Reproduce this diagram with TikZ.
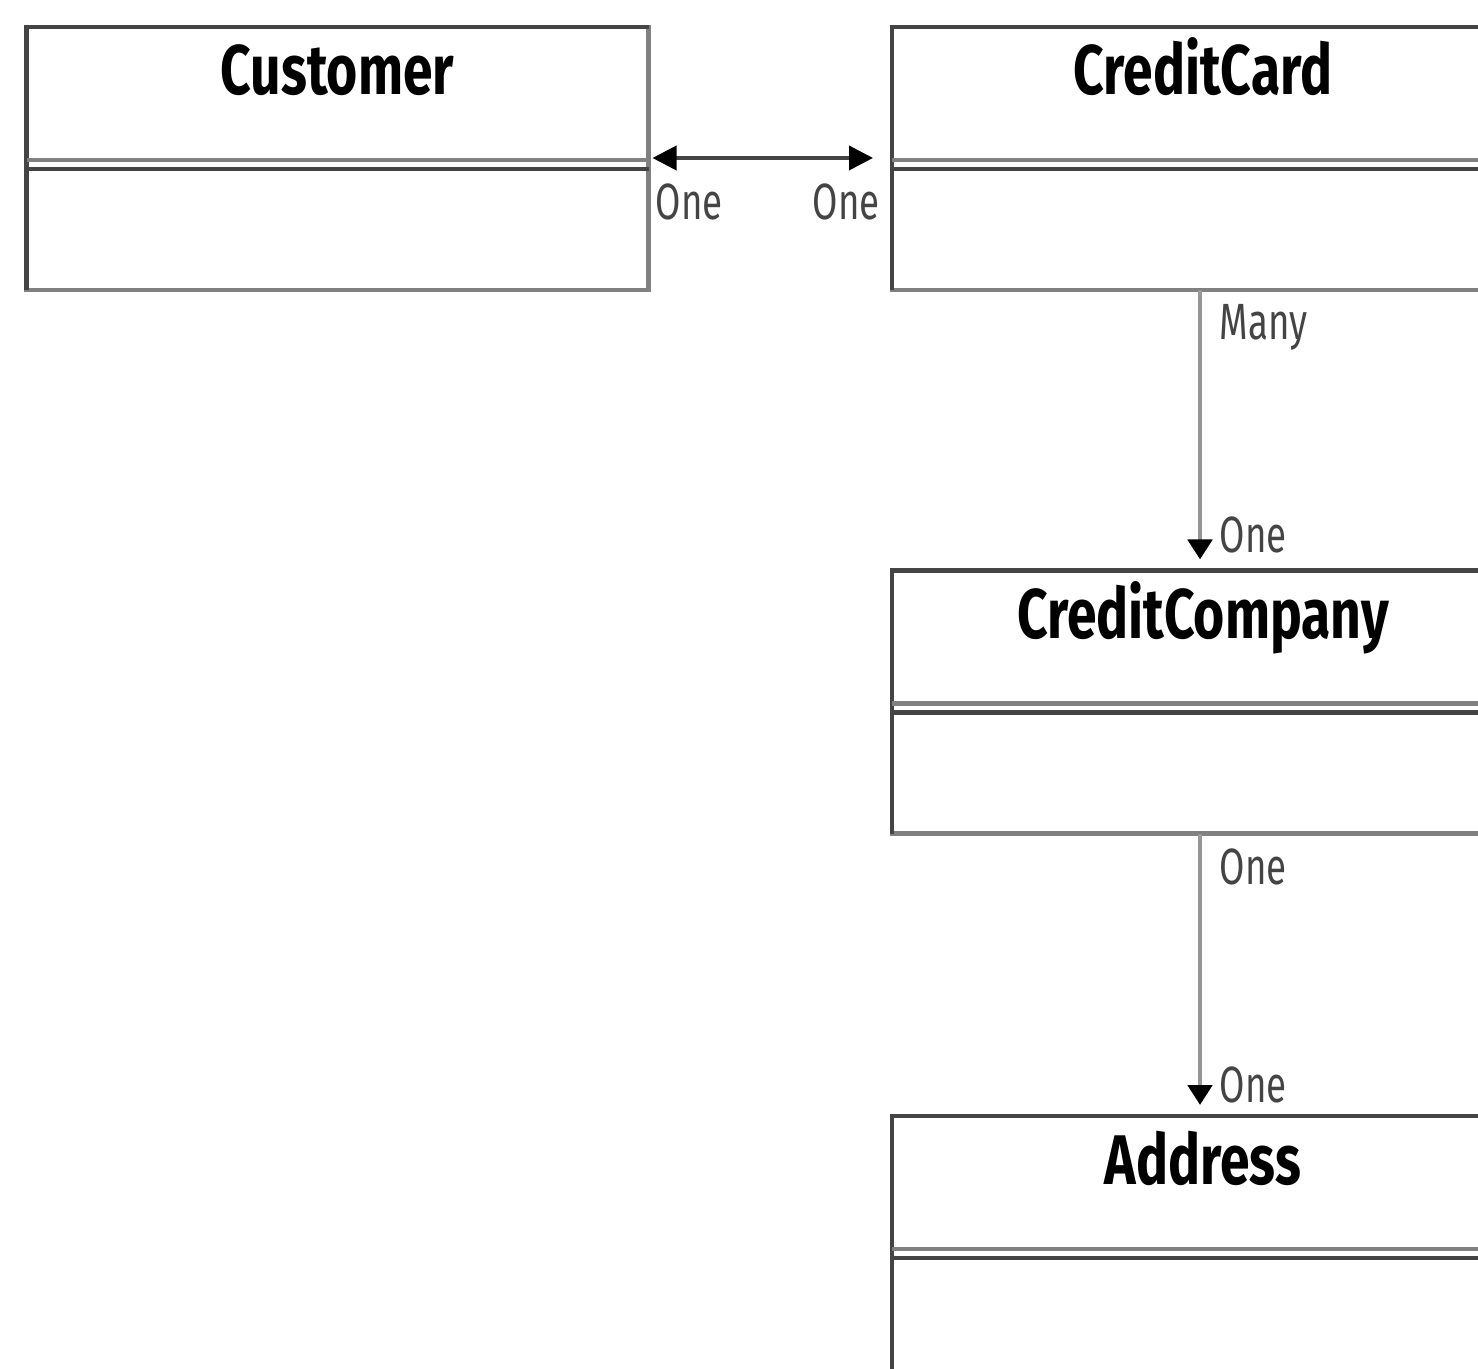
\documentclass[tikz,border=0pt]{standalone}
\usepackage{fontspec}
\setmainfont{Fira Sans}
\newfontfamily\classfont[FakeStretch=0.76]{Fira Sans}
\newfontfamily\multfont[FakeStretch=0.72]{Fira Sans}
\usetikzlibrary{arrows.meta,calc}
\definecolor{boxdark}{RGB}{68,68,68}
\definecolor{boxgray}{RGB}{128,128,128}
\definecolor{linkgray}{RGB}{150,150,150}

\begin{document}
\begin{tikzpicture}[
    classbox/.style={draw=boxgray, line width=1.2pt, fill=white, minimum width=6.22cm, minimum height=2.63cm, inner sep=0pt, outer sep=0pt},
    classname/.style={anchor=base, inner sep=0pt, font=\classfont\bfseries\fontsize{20}{24}\selectfont},
    mult/.style={anchor=base west, inner sep=0pt, text=boxdark, font=\multfont\fontsize{14.5}{17}\selectfont},
    downlink/.style={linkgray, line width=1.4pt, shorten >=0.11cm, -{Triangle[width=0.24cm,length=0.2cm,color=black]}},
    sidelink/.style={boxdark, line width=1.1pt, shorten <=0.04cm, shorten >=0.19cm, {Triangle[width=0.24cm,length=0.24cm,color=black]}-{Triangle[width=0.24cm,length=0.24cm,color=black]}}
]
    \useasboundingbox (0,0) rectangle (14.78,-13.69);
    \clip (0,0) rectangle (14.78,-13.69);

    % Customer
    \node[classbox] (cust) at (3.375,-1.585) {};
    \node[classname] (custname) at ($(cust.north)+(0,-0.68)$) {Customer};

    % CreditCard
    \node[classbox] (ccard) at (12.03,-1.585) {};
    \node[classname] (ccardname) at ($(ccard.north)+(0,-0.68)$) {CreditCard};

    % CreditCompany
    \node[classbox] (ccomp) at (12.03,-7.02) {};
    \node[classname] (ccompname) at ($(ccomp.north)+(0,-0.68)$) {CreditCompany};

    % Address
    \node[classbox] (addr) at (12.03,-12.475) {};
    \node[classname] (addrname) at ($(addr.north)+(0,-0.68)$) {Address};

    % edges and compartments
    \foreach \n in {cust,ccard,ccomp,addr} {
        \draw[boxdark, line width=1.2pt] (\n.south west) -- (\n.north west) -- (\n.north east);
        \draw[boxgray, line width=1.4pt] ($(\n.north west)+(0,-1.33)$) -- ($(\n.north east)+(0,-1.33)$);
        \draw[boxdark, line width=1.4pt] ($(\n.north west)+(0,-1.42)$) -- ($(\n.north east)+(0,-1.42)$);
    }

    % Customer -- CreditCard
    \coordinate (link) at (0,-1.58);
    \draw[sidelink] (cust.east |- link) -- (ccard.west |- link);
    \node[mult] (custone) at (6.55,-2.20) {One};
    \node[mult] (ccardone) at (8.12,-2.20) {One};

    % CreditCard -> CreditCompany
    \draw[downlink] ([xshift=-0.03cm]ccard.south) -- ([xshift=-0.03cm]ccomp.north);
    \node[mult] (many) at (12.19,-3.40) {Many};
    \node[mult] (ccompone) at (12.19,-5.53) {One};

    % CreditCompany -> Address
    \draw[downlink] ([xshift=-0.03cm]ccomp.south) -- ([xshift=-0.03cm]addr.north);
    \node[mult] (ccomponeb) at (12.19,-8.84) {One};
    \node[mult] (addrone) at (12.19,-11.02) {One};
\end{tikzpicture}
\end{document}
